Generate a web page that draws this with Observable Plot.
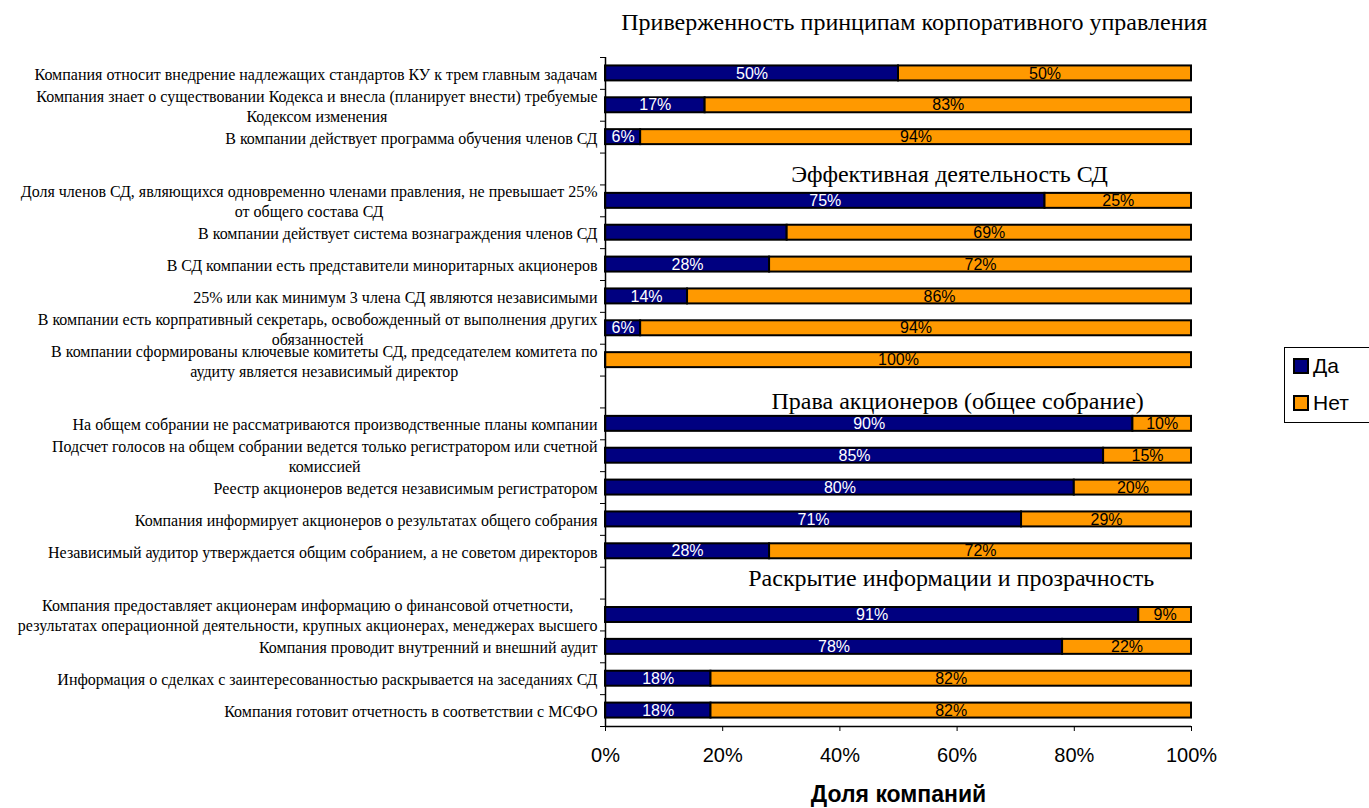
<!DOCTYPE html>
<html>
<head>
<meta charset="utf-8">
<script src="https://cdn.jsdelivr.net/npm/d3@7"></script>
<script src="https://cdn.jsdelivr.net/npm/@observablehq/plot@0.6"></script>
<style>
  body { margin: 0; background: #fff; }
  #wrap { position: relative; width: 1369px; height: 808px; overflow: hidden; }
  .legend { position: absolute; left: 1284px; top: 347px; width: 90px; height: 74px;
    border: 1px solid #000; background: #fff; font-family: "Liberation Sans", Arial, sans-serif; font-size: 21px; }
  .legend .item { position: absolute; left: 8px; display: flex; align-items: center; }
  .legend .sw { display: inline-block; width: 12px; height: 12px; border: 2px solid #000; margin-right: 4px; }
</style>
</head>
<body>
<div id="wrap"></div>
<script>
// ---- data ----
const categories = [
  "Компания относит внедрение надлежащих стандартов КУ к трем главным задачам",
  "Компания знает о существовании Кодекса и внесла (планирует внести) требуемые\nКодексом изменения",
  "В компании действует программа обучения членов СД",
  "",
  "Доля членов СД, являющихся одновременно членами правления, не превышает 25%\nот общего состава СД",
  "В компании действует система вознаграждения членов СД",
  "В СД компании есть представители миноритарных акционеров",
  "25% или как минимум 3 члена СД являются независимыми",
  "В компании есть корпративный секретарь, освобожденный от выполнения других\nобязанностей",
  "В компании сформированы ключевые комитеты СД, председателем комитета по\nаудиту является независимый директор",
  "",
  "На общем собрании не рассматриваются производственные планы компании",
  "Подсчет голосов на общем собрании ведется только регистратором или счетной\nкомиссией",
  "Реестр акционеров ведется независимым регистратором",
  "Компания информирует акционеров о результатах общего собрания",
  "Независимый аудитор утверждается общим собранием, а не советом директоров",
  "",
  "Компания предоставляет акционерам информацию о финансовой отчетности,\nрезультатах операционной деятельности, крупных акционерах, менеджерах высшего",
  "Компания проводит внутренний и внешний аудит",
  "Информация о сделках с заинтересованностью раскрывается на заседаниях СД",
  "Компания готовит отчетность в соответствии с МСФО"
];
const yesValues = [50, 17, 6, null, 75, 31, 28, 14, 6, 0, null, 90, 85, 80, 71, 28, null, 91, 78, 18, 18];
const noValues  = [50, 83, 94, null, 25, 69, 72, 86, 94, 100, null, 10, 15, 20, 29, 72, null, 9, 22, 82, 82];
const yesLabelShown = [true, true, true, false, true, false, true, true, true, false, false, true, true, true, true, true, false, true, true, true, true];
const seriesNames = ["Да", "Нет"];
const seriesColors = ["#000080", "#FF9900"];
const xTicks = [0, 20, 40, 60, 80, 100];
const sectionTitles = [
  "Приверженность принципам корпоративного управления",
  "Эффективная деятельность СД",
  "Права акционеров (общее собрание)",
  "Раскрытие информации и прозрачность"
];
const sectionSlots = [-1, 3, 10, 16];
const xTitle = "Доля компаний";

// ---- table ----
const rows = categories.map((c, i) => ({i, cat: c, yes: yesValues[i], no: noValues[i], showYes: yesLabelShown[i]}))
  .filter(d => d.yes != null);

const serif = "'Liberation Serif', 'Times New Roman', serif";
const sans = "'Liberation Sans', Arial, sans-serif";
const inset = 0.265;

const headerStyle = [
  {x: 52.7, dy: -19},
  {x: 58.7, dy: 5},
  {x: 60.1, dy: 9},
  {x: 59.0, dy: -5}
];

const headerMarks = sectionTitles.map((t, k) =>
  Plot.text([t], {x: headerStyle[k].x, y: sectionSlots[k] + 0.5, dy: headerStyle[k].dy, text: d => d,
    fontFamily: serif, fontSize: 24, fill: "black", textAnchor: "middle"}));

const chart = Plot.plot({
  width: 1369, height: 808,
  marginLeft: 605, marginRight: 178, marginTop: 57, marginBottom: 82,
  style: {background: "white", color: "black", overflow: "visible"},
  x: {domain: [0, 100]},
  y: {domain: [0, categories.length], reverse: true},
  marks: [
    Plot.rect(rows, {x1: 0, x2: "yes", y1: d => d.i + inset, y2: d => d.i + 1 - inset,
      fill: seriesColors[0], stroke: "black", strokeWidth: 2}),
    Plot.rect(rows, {x1: "yes", x2: d => d.yes + d.no, y1: d => d.i + inset, y2: d => d.i + 1 - inset,
      fill: seriesColors[1], stroke: "black", strokeWidth: 2}),
    Plot.text(rows.filter(d => d.showYes && d.yes > 0), {x: d => d.yes / 2, y: d => d.i + 0.5,
      text: d => d.yes + "%", fill: "white", fontSize: 16, fontFamily: sans}),
    Plot.text(rows.filter(d => d.no > 0), {x: d => d.yes + d.no / 2, y: d => d.i + 0.5,
      text: d => d.no + "%", fill: "black", fontSize: 16, fontFamily: sans}),
    Plot.ruleX([0], {y1: 0, y2: categories.length, stroke: "black", strokeWidth: 1.5}),
    Plot.ruleY([categories.length], {x1: 0, x2: 100, stroke: "black", strokeWidth: 1.5}),
    Plot.axisY({ticks: d3.range(categories.length).map(i => i + 0.5), tickFormat: d => categories[Math.floor(d)],
      tickSize: 0, tickPadding: 8, fontSize: 16, fontFamily: serif, lineHeight: 1.25, label: null}),
    Plot.axisY({ticks: d3.range(categories.length + 1), tickFormat: () => "", tickSize: 5, label: null}),
    Plot.axisX({ticks: xTicks, tickFormat: d => d + "%", tickSize: 5, tickPadding: 16,
      fontSize: 20, fontFamily: sans, label: null}),
    Plot.text([xTitle], {frameAnchor: "bottom", dy: 75, text: d => d, fontWeight: "bold", fontSize: 23, fontFamily: sans}),
    ...headerMarks
  ]
});

const wrap = document.getElementById("wrap");
wrap.appendChild(chart);

// center the lines of wrapped category labels on each other (as in the original)
chart.querySelectorAll("text").forEach(t => {
  const spans = t.querySelectorAll("tspan");
  if (spans.length < 2) return;
  let maxW = 0;
  spans.forEach(s => { maxW = Math.max(maxW, s.getComputedTextLength()); });
  const anchor = getComputedStyle(t).textAnchor;
  if (anchor !== "end") return;
  spans.forEach(s => { s.setAttribute("text-anchor", "middle"); s.setAttribute("x", -maxW / 2); });
});

// legend
const legend = document.createElement("div");
legend.className = "legend";
seriesNames.forEach((n, k) => {
  const item = document.createElement("div");
  item.className = "item";
  item.style.top = (k === 0 ? 6 : 43) + "px";
  const sw = document.createElement("span");
  sw.className = "sw";
  sw.style.background = seriesColors[k];
  item.appendChild(sw);
  item.appendChild(document.createTextNode(n));
  legend.appendChild(item);
});
wrap.appendChild(legend);
</script>
</body>
</html>
